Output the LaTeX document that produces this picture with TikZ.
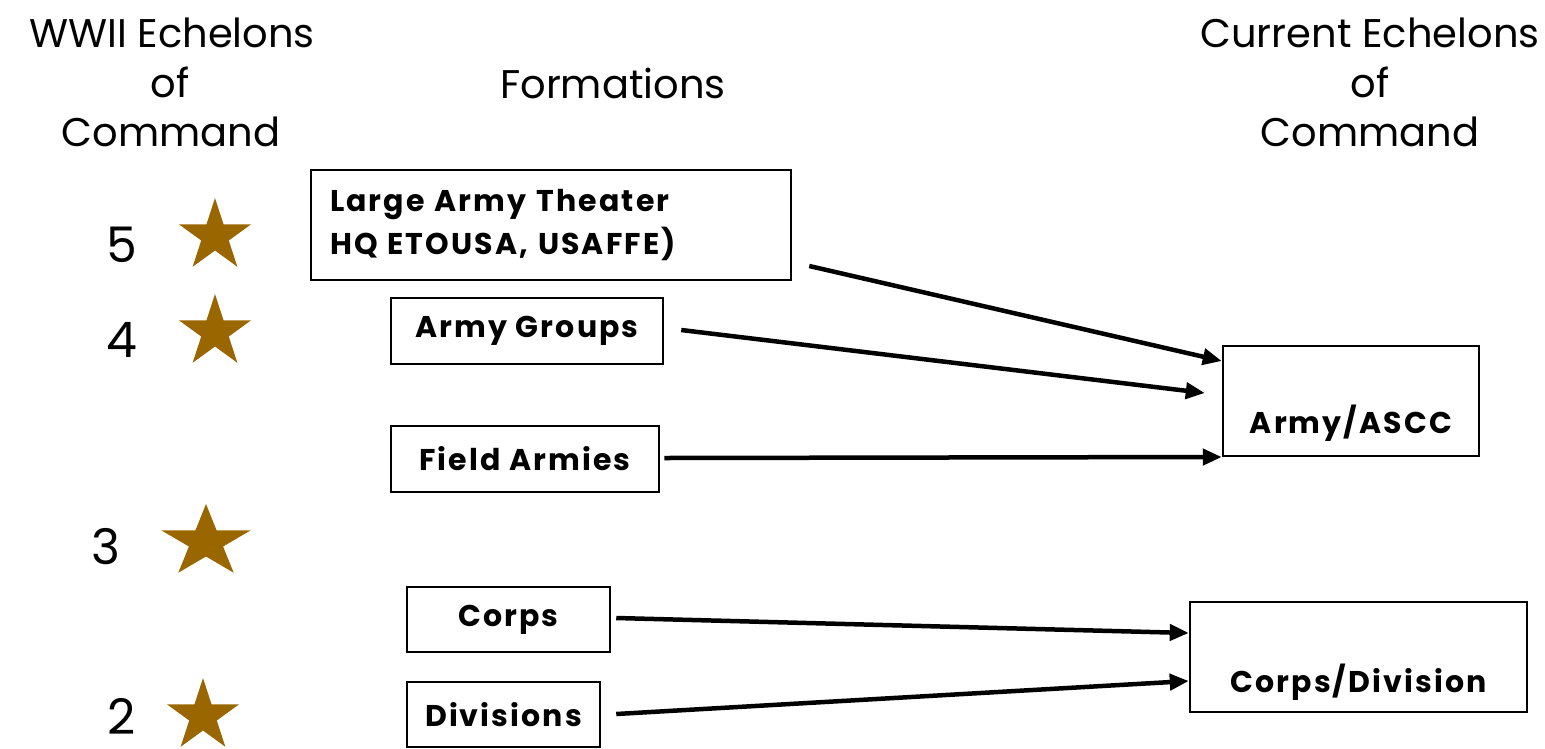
\documentclass[tikz,border=0pt]{standalone}
\usepackage{fontspec}
\setmainfont{Poppins}
\newfontfamily\boxfont[LetterSpace=7]{Poppins}
\usetikzlibrary{arrows.meta,calc}
\definecolor{starcol}{HTML}{996600}
\tikzset{
  x=1pt, y=-1pt,
  rankstar/.pic={\fill[starcol] (90:38pt) -- (126:14.5pt) -- (162:38pt) -- (198:14.5pt) -- (234:38pt) -- (270:14.5pt) -- (306:38pt) -- (342:14.5pt) -- (18:38pt) -- (54:14.5pt) -- cycle;},
  head/.style={font=\fontsize{40}{46}\selectfont, anchor=base, inner sep=0},
  rank/.style={font=\fontsize{49}{56}\selectfont, anchor=center, inner sep=0},
  box/.style={draw, line width=2.5pt, font=\boxfont\fontsize{30}{43}\selectfont\bfseries, inner sep=0, align=center},
  link/.style={line width=4.5pt, -{Triangle[length=19pt,width=16pt]}},
}
\begin{document}
\begin{tikzpicture}
\useasboundingbox (0,0) rectangle (1545,748);
% headers
\node[head] (h1a) at (172,47) {WWII Echelons};
\node[head] (h1b) at (170,97) {of};
\node[head] (h1c) at (171,146) {Command};
\node[head] (h2) at (613,98) {Formations};
\node[head] (h3a) at (1370,47) {Current Echelons};
\node[head] (h3b) at (1370,97) {of};
\node[head] (h3c) at (1370,146) {Command};
% ranks
\node[rank] (r5) at (122,245) {5};
\node[rank] (r4) at (122,340) {4};
\node[rank] (r3) at (106,547) {3};
\node[rank] (r2) at (122,716) {2};
\pic at (215,236) {rankstar};
\pic at (215,332) {rankstar};
\pic[xscale=1.24] at (206,542) {rankstar};
\pic at (203,716) {rankstar};
% formation boxes
\node[box, align=left, text width=442pt, inner xsep=19pt, minimum height=110pt] (lat) at (551,225) {Large Army Theater\\HQ ETOUSA, USAFFE)};
\node[box, minimum width=272pt, minimum height=66pt] (ag) at (527,331) {Army Groups};
\node[box, minimum width=268pt, minimum height=66pt] (fa) at (525,459) {Field Armies};
\node[box, minimum width=203pt, minimum height=65pt] (corps) at (508.5,619.5) {Corps};
\node[box, minimum width=193pt, minimum height=65pt] (div) at (503.5,714.5) {Divisions};
% current boxes
\node[box, minimum width=256pt, text height=87pt, text depth=23pt] (ascc) at (1351,401) {Army/ASCC};
\node[box, minimum width=337pt, text height=90pt, text depth=20pt] (cd) at (1358.5,657) {Corps/Division};
% connectors
\draw[link] ([xshift=17pt,yshift=-41pt]lat.east) -- ([yshift=40pt]ascc.west);
\draw[link] ([xshift=17pt,yshift=1pt]ag.east) -- ([xshift=-17pt,yshift=8pt]ascc.west);
\draw[link] ([xshift=4pt,yshift=1pt]fa.east) -- ([yshift=-56pt]ascc.west);
\draw[link] ([xshift=5pt,yshift=1.5pt]corps.east) -- ([yshift=24pt]cd.west);
\draw[link] ([xshift=15pt,yshift=0.5pt]div.east) -- ([yshift=-24pt]cd.west);
\end{tikzpicture}
\end{document}
